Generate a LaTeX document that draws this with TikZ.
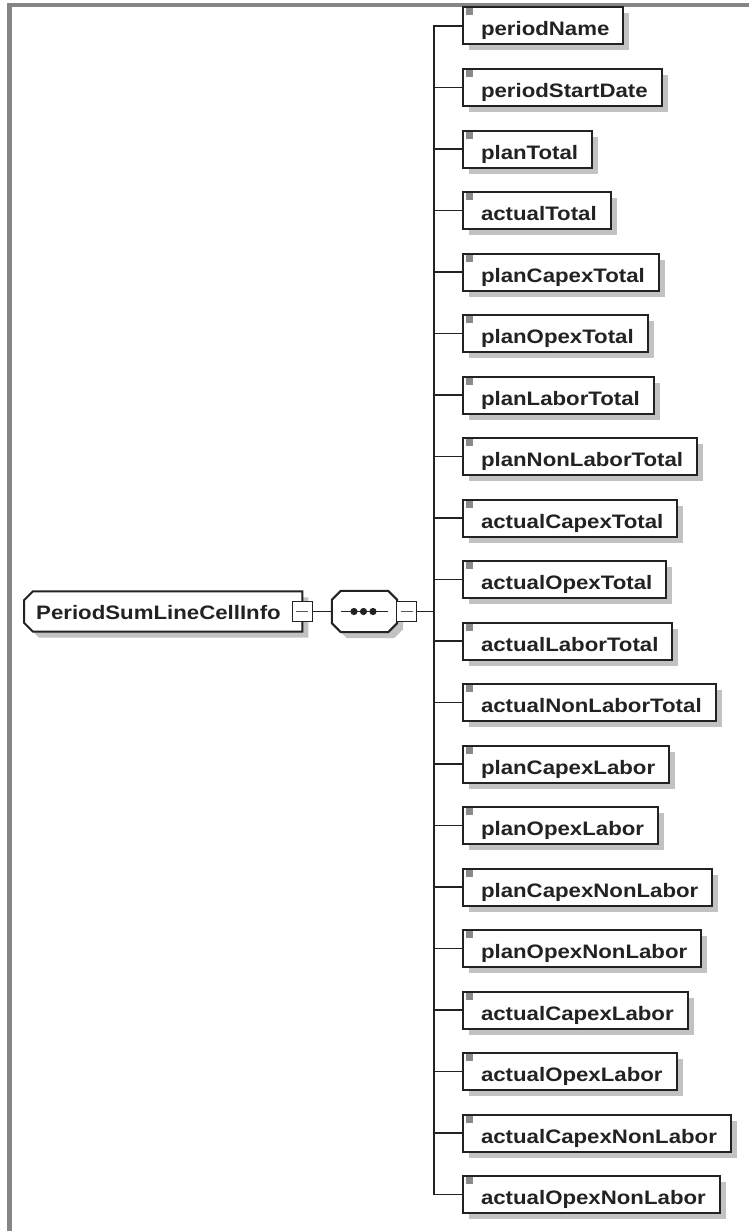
\documentclass[tikz,border=0pt]{standalone}
\usepackage{fontspec}
\newfontfamily\diafont[FakeStretch=1.14]{Liberation Sans}
\usetikzlibrary{calc,backgrounds}
\definecolor{ink}{HTML}{222222}
\definecolor{shade}{HTML}{C2C2C2}
\definecolor{frameline}{HTML}{858585}
\definecolor{marker}{HTML}{8A8A8A}
\begin{document}
\begin{tikzpicture}[x=1pt,y=-1pt,
  lbl/.style={font=\diafont\bfseries\fontsize{19.5pt}{21pt}\selectfont, text=ink},
  elem/.style={lbl, rectangle, anchor=west, draw=ink, line width=2pt, fill=white,
    minimum height=37pt, inner ysep=0pt, inner xsep=14pt,
    text height=21pt, text depth=1pt,
    execute at begin node={\hspace*{4pt}},
    preaction={fill=shade, draw=none, transform canvas={shift={(6pt,-6pt)}}},
    path picture={\fill[marker] ([xshift=2.5pt,yshift=-1pt]path picture bounding box.north west) rectangle ++(7pt,-7pt);}},
  minusbox/.style={rectangle, draw=ink, line width=1.5pt, fill=white,
    minimum size=20pt, inner sep=0pt,
    path picture={\draw[ink!75, line width=1.5pt] ([xshift=4pt]path picture bounding box.west) -- ([xshift=-4pt]path picture bounding box.east);}},
  wire/.style={draw=ink, line width=1.9pt},
  outline/.style={draw=ink, line width=2pt, fill=white, line join=miter},
  shadowfill/.style={fill=shade, draw=none, transform canvas={shift={(6pt,-6pt)}}}
]
\useasboundingbox (0,0) rectangle (749,1231);

% frame of the diagram window
\draw[frameline, line width=4.3pt] (9.5,1231) -- (9.5,4.7) -- (749,4.7);

% root element and its content model
\node[lbl, anchor=west, inner xsep=12pt, inner ysep=0pt, minimum height=40pt,
      text height=18pt, text depth=2pt] (root) at (24,611.5)
      {\makebox[254pt][l]{PeriodSumLineCellInfo}};
\node[rectangle, minimum width=65pt, minimum height=41pt, inner sep=0pt] (seq) at (364.5,611.5) {};

\begin{scope}[on background layer]
  \fill[white] (0,0) rectangle (749,1231);
  % root outline with chamfered left corners
  \fill[shadowfill] ($(root.north west)+(0,9)$) -- ($(root.north west)+(9,0)$) -- (root.north east)
     -- (root.south east) -- ($(root.south west)+(9,0)$) -- ($(root.south west)+(0,-9)$) -- cycle;
  \path[outline] ($(root.north west)+(0,9)$) -- ($(root.north west)+(9,0)$) -- (root.north east)
     -- (root.south east) -- ($(root.south west)+(9,0)$) -- ($(root.south west)+(0,-9)$) -- cycle;
  % sequence compositor octagon
  \fill[shadowfill] ($(seq.north west)+(0,9)$) -- ($(seq.north west)+(9,0)$) -- ($(seq.north east)+(-9,0)$)
     -- ($(seq.north east)+(0,9)$) -- ($(seq.south east)+(0,-9)$) -- ($(seq.south east)+(-9,0)$)
     -- ($(seq.south west)+(9,0)$) -- ($(seq.south west)+(0,-9)$) -- cycle;
  \path[outline] ($(seq.north west)+(0,9)$) -- ($(seq.north west)+(9,0)$) -- ($(seq.north east)+(-9,0)$)
     -- ($(seq.north east)+(0,9)$) -- ($(seq.south east)+(0,-9)$) -- ($(seq.south east)+(-9,0)$)
     -- ($(seq.south west)+(9,0)$) -- ($(seq.south west)+(0,-9)$) -- cycle;
\end{scope}

% sequence symbol
\draw[wire] ($(seq.center)+(-24,0)$) -- ($(seq.center)+(23,0)$);
\foreach \dx in {-10.5,-1,8.5} \fill[ink] ($(seq.center)+(\dx,0)$) circle (3.6pt);

% collapse toggles
\node[minusbox] (rm) at (root.east) {};
\node[minusbox] (sm) at (406.5,611.5) {};
\draw[wire] (rm.east) -- (seq.west);

% child elements
\foreach \name [count=\i from 0] in {periodName,periodStartDate,planTotal,actualTotal,
  planCapexTotal,planOpexTotal,planLaborTotal,planNonLaborTotal,actualCapexTotal,
  actualOpexTotal,actualLaborTotal,actualNonLaborTotal,planCapexLabor,planOpexLabor,
  planCapexNonLabor,planOpexNonLabor,actualCapexLabor,actualOpexLabor,
  actualCapexNonLabor,actualOpexNonLabor}
  \node[elem] (e\i) at (462,{26+61.5*\i}) {\name};

% branch bus to the children
\coordinate (bus) at (434,611.5);
\draw[wire] (sm.east) -- (sm.east -| bus);
\draw[wire] (e0.west) -- (e0.west -| bus) -- (e19.west -| bus) -- (e19.west);
\foreach \i in {1,...,18} \draw[wire] (e\i.west -| bus) -- (e\i.west);
\end{tikzpicture}
\end{document}
